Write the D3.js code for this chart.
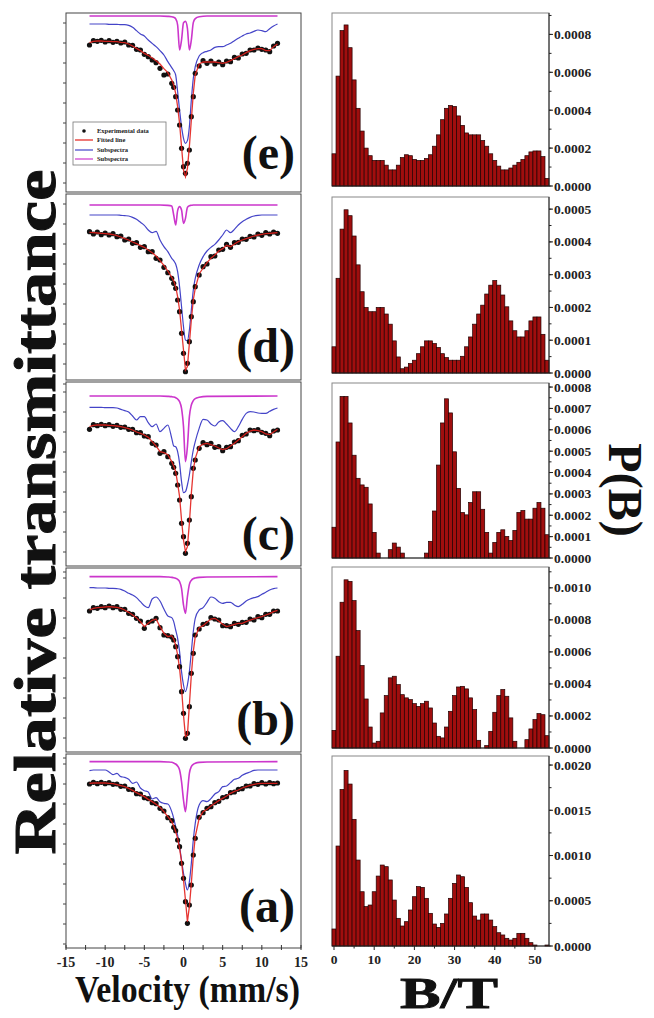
<!DOCTYPE html>
<html><head><meta charset="utf-8">
<script src="https://cdn.jsdelivr.net/npm/d3@7"></script>
<style>body{margin:0;background:#fff}svg{display:block}</style>
</head><body>
<svg id="chart" width="654" height="1018"></svg>
<script>
// ---------------- DATA ----------------
const panelLabels = ["(e)","(d)","(c)","(b)","(a)"];
const legendLabels = ["Experimental data","Fitted line","Subspectra","Subspectra"];

// Mössbauer velocity grid (mm/s)
const velocity = [-12,-11.5,-11,-10.5,-10,-9.5,-9,-8.5,-8,-7.5,-7,-6.5,-6,-5.5,-5,-4.5,-4,-3.5,-3,-2.5,-2,-1.5,
  -1.25,-1,-0.75,-0.5,-0.25,0,0.25,0.5,0.75,1,1.25,
  1.5,2,2.5,3,3.5,4,4.5,5,5.5,6,6.5,7,7.5,8,8.5,9,9.5,10,10.5,11,11.5,12];
const magVelocity = [-12,-3,-2,-1.5,-1.25,-1,-0.75,-0.5,-0.25,0,0.25,0.5,0.75,1,1.25,1.5,2,3,12];

// absorption (arbitrary units, larger = lower transmittance)
const expE = [135,122,124,121,126,122,127,124,129,126,135,136,148,150,163,170,180,188,205,225,222,250,
  262,290,330,375,445,500,520,490,450,350,290,
  220,198,182,190,183,192,186,194,183,185,172,174,162,160,150,150,144,148,150,155,138,130];
const fitE = [128,124,123,123,124,124,125,125,127,128,132,138,145,152,160,166,174,182,192,206,218,240,
  255,280,320,370,440,510,530,505,440,360,280,
  225,192,186,186,186,186,188,190,187,182,176,170,165,158,152,148,146,146,152,152,140,132];
const blueE = [72,72,72,72,72,73,73,73,74,74,76,82,92,102,108,120,130,140,152,165,185,203,
  212,225,275,330,380,415,430,422,380,300,235,
  200,168,158,154,150,142,140,140,135,130,122,115,108,102,99,94,90,92,95,86,78,72];
const magE = [48,48,49,50,52,56,75,150,120,68,64,85,150,120,68,56,50,48,48];

const expD = [125,132,126,134,129,135,131,140,138,150,147,160,158,172,170,185,185,205,210,232,248,265,
  280,295,330,365,430,490,545,520,455,380,335,
  290,255,230,222,200,198,180,178,163,172,158,157,147,148,139,141,132,136,128,132,126,130];
const fitD = [127,128,129,130,131,132,134,137,141,146,150,156,161,167,172,180,188,198,212,226,243,262,
  272,290,320,360,420,480,540,530,460,390,330,
  295,252,234,218,205,195,183,176,166,170,162,155,150,146,142,138,135,133,131,130,129,128];
const blueD = [75,75,75,75,75,75,75,75,76,77,78,82,88,97,106,120,128,124,150,170,185,205,
  212,222,245,290,350,410,450,452,420,360,300,
  265,225,200,183,172,163,150,135,120,128,118,105,95,88,82,78,76,75,75,75,75,75];
const magD = [45,45,46,48,75,105,62,50,60,100,85,52,47,46,45,45,45,45,45];

const expC = [148,134,137,133,137,134,139,136,142,141,148,148,158,158,168,170,190,195,220,215,230,250,
  262,280,315,360,430,470,520,490,420,350,265,
  240,205,188,194,190,202,200,212,202,200,186,182,166,162,150,152,149,157,160,167,153,150];
const fitC = [140,136,135,135,135,136,137,138,140,143,146,150,156,160,165,172,185,198,215,218,224,245,
  258,275,310,350,420,480,515,500,430,340,270,
  235,200,192,190,194,198,204,209,206,198,190,180,170,160,153,150,152,155,162,164,156,148];
const blueC = [82,82,82,82,83,83,83,84,88,92,96,108,120,110,110,128,140,132,155,145,135,175,
  198,200,215,250,305,338,335,315,285,245,210,
  185,145,118,120,132,138,126,122,132,145,155,140,118,100,95,96,99,100,100,94,88,84];
const magC = [48,48,49,50,51,53,57,65,85,140,245,200,110,75,62,56,52,49,48];

const expB = [138,128,130,125,128,123,128,125,133,133,145,148,160,168,190,172,168,160,188,210,212,216,
  225,245,275,305,380,445,520,505,425,325,265,
  210,192,178,175,158,162,165,182,182,185,175,178,172,172,162,165,155,158,148,148,138,138];
const fitB = [135,130,128,127,126,125,126,127,130,135,142,150,158,170,185,175,166,162,185,205,215,212,
  222,240,270,310,370,450,515,510,420,330,260,
  215,188,182,172,162,160,168,178,185,182,178,175,175,170,165,162,158,155,150,146,140,136];
const blueB = [68,68,69,69,69,70,70,71,73,78,85,90,98,110,122,128,102,96,108,132,153,158,
  170,195,220,260,320,360,380,360,320,260,200,
  160,135,128,112,96,100,110,115,112,112,120,125,118,108,102,98,95,88,82,75,71,69];
const magB = [35,35,36,37,38,40,43,50,70,120,145,95,58,46,41,39,37,36,35];

const expA = [102,97,101,97,101,98,103,102,109,108,118,119,131,132,143,146,158,161,175,183,203,212,
  232,242,270,290,340,385,455,520,465,405,315,
  265,202,188,175,170,158,154,143,140,128,126,118,116,108,108,101,103,98,102,98,101,99];
const fitA = [100,99,99,99,99,100,101,104,107,110,115,121,128,134,140,148,155,163,172,185,200,215,
  228,245,265,295,335,390,450,515,470,400,320,
  260,205,185,178,168,160,152,145,138,130,124,120,114,110,106,103,101,100,100,100,100,100];
const blueA = [62,60,60,60,60,66,74,70,80,82,88,100,96,114,122,126,147,143,155,160,162,185,
  205,230,255,290,330,370,400,420,395,340,270,
  220,165,152,155,146,132,125,110,108,98,88,85,76,70,66,61,60,60,60,60,60,60];
const magA = [35,35,36,37,39,42,48,60,95,150,185,130,70,50,43,40,37,36,35];

// Hyperfine field distribution P(B), in units of 1e-4, B = 0..53 T
const fieldB = d3.range(0, 54);
const pbE = [1.7,5.8,8.2,8.5,7.3,5.6,4.1,2.9,2.0,1.6,1.35,1.35,1.35,1.1,0.85,0.85,1.1,1.5,1.65,1.6,
  1.4,1.35,1.35,1.45,1.65,2.1,2.7,3.5,4.1,4.25,4.2,3.7,3.2,2.8,2.7,2.7,2.7,2.4,2.1,1.7,
  1.35,1.05,0.85,0.85,0.95,1.1,1.25,1.4,1.6,1.8,1.85,1.85,1.55,0.4];
const pbD = [0.8,2.89,4.39,4.98,4.8,4.18,3.3,2.48,2.0,1.87,1.87,2.0,2.0,1.8,1.49,0.98,0.49,0.13,0.18,0.29,
  0.39,0.59,0.8,0.98,0.98,0.9,0.78,0.59,0.47,0.39,0.39,0.39,0.51,0.8,1.1,1.49,1.8,2.07,2.41,2.68,
  2.82,2.68,2.38,2.02,1.59,1.29,1.1,1.1,1.29,1.59,1.71,1.71,1.18,0.39];
const pbC = [1.44,5.43,7.56,7.56,6.32,4.81,3.73,3.42,3.31,2.53,1.2,0.23,0,0,0.39,0.7,0.51,0.23,0,0,
  0,0,0,0.23,0.78,2.2,4.35,6.32,7.45,6.79,4.97,3.26,2.13,2.02,2.6,3.1,3.1,2.28,1.2,0.23,
  0.73,1.2,1.32,1.01,0.82,1.29,2.13,2.22,1.82,1.82,2.33,2.6,2.33,1.09];
const pbB = [1.1,5.73,9.1,10.5,10.4,9.2,7.33,5.15,3.06,1.31,0.31,0.42,2.19,3.27,4.38,4.48,3.96,3.33,3.13,3.02,
  2.77,2.6,2.77,2.92,2.5,1.56,0.73,0.63,1.31,2.29,3.27,3.81,3.85,3.69,3.13,2.4,0.48,0,0.15,1.04,
  2.23,3.27,3.65,3.23,1.88,0.42,0,0,0.52,1.19,1.77,2.15,2.08,0.77];
const pbA = [1.88,11.05,17.3,19.4,17.9,14.0,9.5,6.0,4.35,4.53,6.0,7.73,8.95,8.77,7.3,5.08,3.06,2.21,2.69,3.98,
  5.45,6.56,6.48,5.27,3.61,2.43,2.06,2.5,3.54,5.27,6.92,7.85,7.66,6.48,4.79,3.31,2.87,3.54,3.54,2.87,
  2.14,1.47,1.22,0.85,0.66,0.85,1.4,1.4,0.85,0.37,0.11,0,0,0.11];

// tick values for P(B) axes (units of 1e-4)
const pbTicksE = [0,2,4,6,8];
const pbTicksD = [0,1,2,3,4,5];
const pbTicksC = [0,1,2,3,4,5,6,7,8];
const pbTicksB = [0,2,4,6,8,10];
const pbTicksA = [0,5,10,15,20];
const velocityTicks = [-15,-10,-5,0,5,10,15];
const fieldTicks = [0,10,20,30,40,50];

// ---------------- LAYOUT ----------------
const serif = "'Liberation Serif','Times New Roman',serif";
const svg = d3.select("#chart");

const spectra = [
  {exp:expE, fit:fitE, blue:blueE, mag:magE, top:13,  bottom:192, dom:[39,576]},
  {exp:expD, fit:fitD, blue:blueD, mag:magD, top:194, bottom:380, dom:[12,570]},
  {exp:expC, fit:fitC, blue:blueC, mag:magC, top:382, bottom:566, dom:[6,558]},
  {exp:expB, fit:fitB, blue:blueB, mag:magB, top:568, bottom:752, dom:[9,561]},
  {exp:expA, fit:fitA, blue:blueA, mag:magA, top:754, bottom:948, dom:[12,594]}
];
const hists = [
  {pb:pbE, ticks:pbTicksE, minor:1,   top:13,  bottom:186, max:9.13},
  {pb:pbD, ticks:pbTicksD, minor:0.5, top:197, bottom:373, max:5.37},
  {pb:pbC, ticks:pbTicksC, minor:0.5, top:383, bottom:558, max:8.19},
  {pb:pbB, ticks:pbTicksB, minor:1,   top:567, bottom:748, max:11.3},
  {pb:pbA, ticks:pbTicksA, minor:2.5, top:756, bottom:946, max:21.0}
];

const vx = d3.scaleLinear().domain([-15,15]).range([66,301]);
const bx = d3.scaleLinear().domain([-0.5,53.5]).range([332,549]);

const colRed = "#e3201c", colBlue = "#4444c8", colMag = "#cc36cc";

// ---------------- LEFT: spectra ----------------
spectra.forEach((p, i) => {
  const y = d3.scaleLinear().domain(p.dom).range([p.top, p.bottom]);
  const g = svg.append("g");
  g.append("rect").attr("x", vx(-15)).attr("y", p.top).attr("width", vx(15)-vx(-15)).attr("height", p.bottom-p.top)
    .attr("fill","#fff").attr("stroke","#444").attr("stroke-width",1);
  const yt = d3.range(p.dom[0], p.dom[1], 60);
  g.selectAll(".lt").data(yt).join("line")
    .attr("x1", vx(-15)-3).attr("x2", vx(-15)).attr("y1", d=>y(d)+10).attr("y2", d=>y(d)+10)
    .attr("stroke","#444").attr("stroke-width",1);

  const line = (arr, xs) => d3.line().x((d,k)=>vx(xs[k])).y(d=>y(d)).curve(d3.curveMonotoneX)(arr);
  g.append("path").attr("d", line(p.mag, magVelocity)).attr("fill","none").attr("stroke",colMag).attr("stroke-width",1.6);
  g.append("path").attr("d", line(p.blue, velocity)).attr("fill","none").attr("stroke",colBlue).attr("stroke-width",1.2);
  g.selectAll(".dot").data(p.exp).join("circle")
    .attr("cx",(d,k)=>vx(velocity[k])).attr("cy",d=>y(d)).attr("r",2.6).attr("fill","#111");
  g.append("path").attr("d", d3.line().x((d,k)=>vx(velocity[k])).y(d=>y(d))(p.fit))
    .attr("fill","none").attr("stroke",colRed).attr("stroke-width",1.3).attr("opacity",0.9);

  const labelBase = [169,362,550,735,922][i];
  g.append("text").attr("x",295).attr("y",labelBase).attr("text-anchor","end")
    .attr("font-family",serif).attr("font-weight","bold").attr("font-size",48).attr("fill","#111")
    .text(panelLabels[i]);
});

// legend in (e)
{
  const lg = svg.append("g");
  lg.append("rect").attr("x",73).attr("y",122).attr("width",93).attr("height",43)
    .attr("fill","#fff").attr("stroke","#777").attr("stroke-width",0.8);
  const rowsY = [131,140,150,159];
  const cols = ["#111",colRed,colBlue,colMag];
  legendLabels.forEach((t,k)=>{
    if(k===0) lg.append("circle").attr("cx",84).attr("cy",rowsY[k]).attr("r",1.8).attr("fill","#111");
    else lg.append("line").attr("x1",75).attr("x2",93).attr("y1",rowsY[k]).attr("y2",rowsY[k]).attr("stroke",cols[k]).attr("stroke-width",1.2);
    lg.append("text").attr("x",97).attr("y",rowsY[k]+2).attr("font-family",serif).attr("font-weight","bold")
      .attr("font-size",6.5).attr("fill","#222").text(t);
  });
}

// bottom velocity axis
{
  const base = 948;
  const g = svg.append("g");
  g.selectAll(".mj").data(d3.range(-15,15.01,2.5)).join("line")
    .attr("x1",d=>vx(d)).attr("x2",d=>vx(d)).attr("y1",base-3).attr("y2",base+2).attr("stroke","#333");
  g.selectAll(".lb").data(velocityTicks).join("text")
    .attr("x",d=>vx(d)).attr("y",967).attr("text-anchor","middle")
    .attr("font-family",serif).attr("font-weight","bold").attr("font-size",14).attr("fill","#222")
    .text(d=>String(d));
}

// ---------------- RIGHT: histograms ----------------
hists.forEach((h,i)=>{
  const y = d3.scaleLinear().domain([0,h.max]).range([h.bottom,h.top]);
  const g = svg.append("g");
  g.append("rect").attr("x",bx(-0.5)).attr("y",h.top).attr("width",bx(53.5)-bx(-0.5)).attr("height",h.bottom-h.top)
    .attr("fill","#fff").attr("stroke","#888").attr("stroke-width",1);
  g.selectAll(".bar").data(h.pb).join("rect")
    .attr("x",(d,k)=>bx(fieldB[k]-0.5)).attr("width",bx(1)-bx(0))
    .attr("y",d=>y(d)).attr("height",d=>h.bottom-y(d))
    .attr("fill","#a00e0e").attr("stroke","#200000").attr("stroke-width",0.7);
  g.append("line").attr("x1",549).attr("x2",549).attr("y1",h.top).attr("y2",h.bottom).attr("stroke","#222");
  g.append("line").attr("x1",bx(-0.5)).attr("x2",549).attr("y1",h.bottom).attr("y2",h.bottom).attr("stroke","#222");
  g.selectAll(".mn").data(d3.range(0,h.max,h.minor)).join("line")
    .attr("x1",549).attr("x2",551.5).attr("y1",d=>y(d)).attr("y2",d=>y(d)).attr("stroke","#222");
  g.selectAll(".mj").data(h.ticks).join("line")
    .attr("x1",549).attr("x2",553).attr("y1",d=>y(d)).attr("y2",d=>y(d)).attr("stroke","#222");
  g.selectAll(".tl").data(h.ticks).join("text")
    .attr("x",554).attr("y",d=>y(d)+4.5)
    .attr("font-family",serif).attr("font-weight","bold").attr("font-size",13.5).attr("fill","#222")
    .text(d=>(d*1e-4).toFixed(4));
});

// bottom field axis
{
  const base = 946;
  const g = svg.append("g");
  g.selectAll(".mj").data(d3.range(0,51,5)).join("line")
    .attr("x1",d=>bx(d)).attr("x2",d=>bx(d)).attr("y1",base).attr("y2",d=>base+(d%10===0?4:2.5)).attr("stroke","#222");
  g.selectAll(".lb").data(fieldTicks).join("text")
    .attr("x",d=>bx(d)).attr("y",964).attr("text-anchor","middle")
    .attr("font-family",serif).attr("font-weight","bold").attr("font-size",13.5).attr("fill","#222")
    .text(d=>String(d));
}

// ---------------- TITLES ----------------
svg.append("text").attr("transform","translate(55,512) rotate(-90)").attr("text-anchor","middle")
  .attr("font-family",serif).attr("font-weight","bold").attr("font-size",60).attr("fill","#111")
  .attr("stroke","#111").attr("stroke-width",1)
  .attr("textLength",685).attr("lengthAdjust","spacingAndGlyphs").text("Relative transmittance");
svg.append("text").attr("transform","translate(609,490) rotate(90)").attr("text-anchor","middle")
  .attr("font-family",serif).attr("font-weight","bold").attr("font-size",48).attr("fill","#111")
  .text("P(B)");
svg.append("text").attr("x",75).attr("y",1002)
  .attr("font-family",serif).attr("font-weight","bold").attr("font-size",38).attr("fill","#111")
  .attr("textLength",225).attr("lengthAdjust","spacingAndGlyphs").text("Velocity (mm/s)");
svg.append("text").attr("x",400).attr("y",1008)
  .attr("font-family",serif).attr("font-weight","bold").attr("font-size",44).attr("fill","#111")
  .attr("stroke","#111").attr("stroke-width",0.8)
  .attr("textLength",98).attr("lengthAdjust","spacingAndGlyphs").text("B/T");
</script>
</body></html>
